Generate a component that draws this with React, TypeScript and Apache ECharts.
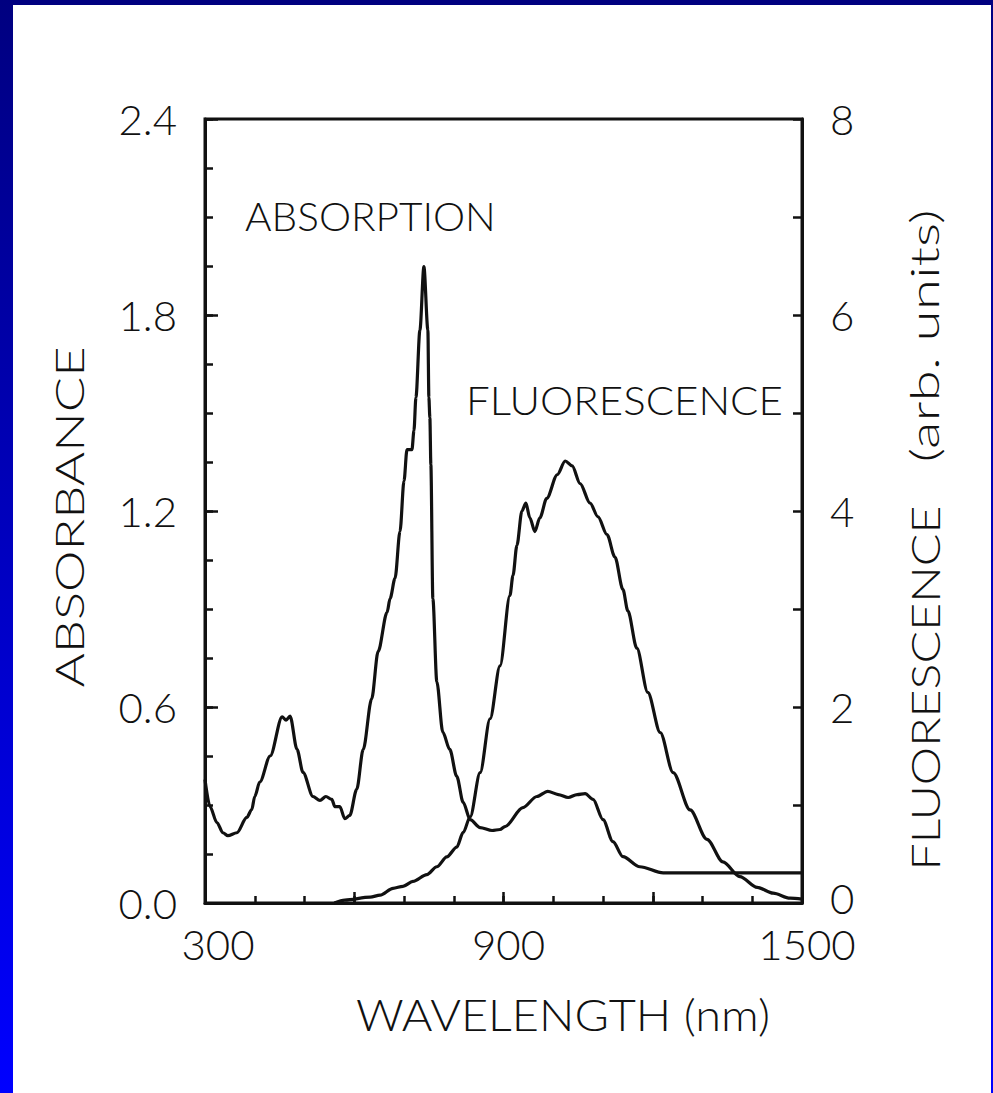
import React, { useEffect, useRef } from "react";
import * as echarts from "echarts";

// Absorption spectrum (left axis, absorbance)
const absWavelength = [
  300, 310, 324, 336, 346, 364, 384, 394, 400, 410, 431, 455, 463, 471, 485, 497,
  517, 531, 543, 555, 561, 571, 581, 591, 605, 618, 635, 648, 666, 672, 682, 692,
  700, 706, 716, 720, 724, 732, 740, 748, 750, 752, 754, 758, 766, 778, 792, 806,
  819, 833, 853, 877, 893, 903, 939, 967, 989, 1010, 1030, 1048, 1064, 1080, 1100,
  1120, 1140, 1174, 1221, 1300, 1500,
];
const absorbance = [
  0.378, 0.295, 0.246, 0.215, 0.206, 0.215, 0.262, 0.286, 0.326, 0.37, 0.45, 0.57,
  0.56, 0.572, 0.47, 0.4, 0.326, 0.314, 0.326, 0.317, 0.295, 0.295, 0.258, 0.268,
  0.348, 0.47, 0.625, 0.77, 0.89, 0.932, 0.994, 1.138, 1.292, 1.388, 1.388, 1.446,
  1.548, 1.754, 1.948, 1.754, 1.548, 1.486, 1.342, 0.932, 0.677, 0.523, 0.47, 0.388,
  0.308, 0.255, 0.231, 0.222, 0.225, 0.234, 0.292, 0.326, 0.342, 0.332, 0.323,
  0.332, 0.335, 0.317, 0.255, 0.188, 0.142, 0.111, 0.092, 0.092, 0.092,
];

// Fluorescence spectrum (right axis, arbitrary units)
const flWavelength = [
  560, 581, 632, 652, 678, 698, 718, 746, 766, 786, 806, 819, 833, 853, 873, 893,
  913, 919, 927, 937, 945, 953, 963, 973, 987, 1008, 1024, 1038, 1054, 1074, 1090,
  1108, 1124, 1140, 1150, 1168, 1190, 1215, 1241, 1275, 1309, 1341, 1375, 1410,
  1442, 1476, 1500,
];
const fluorescence = [
  0, 0.03, 0.06, 0.08, 0.15, 0.17, 0.22, 0.29, 0.37, 0.47, 0.57, 0.72, 0.88, 1.33,
  1.88, 2.42, 3.14, 3.34, 3.65, 4.0, 4.08, 3.93, 3.79, 3.93, 4.13, 4.37, 4.51, 4.46,
  4.28, 4.08, 3.94, 3.76, 3.53, 3.2, 2.98, 2.6, 2.15, 1.74, 1.33, 0.95, 0.65, 0.42,
  0.27, 0.16, 0.1, 0.05, 0.04,
];

// Tick labels
const wavelengthLabels = [300, 900, 1500];
const absorbanceLabels = ["0.0", "0.6", "1.2", "1.8", "2.4"];
const fluorescenceLabels = ["0", "2", "4", "6", "8"];

const FONT = "Lato";
const INK = "#111";

export default function App() {
  const ref = useRef<HTMLDivElement>(null);

  useEffect(() => {
    if (!ref.current) return;
    const chart = echarts.init(ref.current, null, { renderer: "svg" });

    const tickLine = { color: INK, width: 2.5 };
    const labelBase = { color: INK, fontFamily: FONT, fontWeight: 300, fontSize: 42 };

    const blueFade = {
      type: "linear",
      x: 0, y: 0, x2: 0, y2: 1,
      colorStops: [
        { offset: 0, color: "#000080" },
        { offset: 1, color: "#0000ff" },
      ],
    };

    const titleText = (
      text: string,
      x: number,
      y: number,
      fontSize: number,
      scaleX: number,
      align: string,
      rotated: boolean
    ) => ({
      type: "text",
      x,
      y,
      rotation: rotated ? Math.PI / 2 : 0,
      scaleX,
      style: {
        text,
        fill: INK,
        fontFamily: FONT,
        fontWeight: 300,
        fontSize,
        align,
        verticalAlign: "middle",
      },
    });

    const option: any = {
      animation: false,
      backgroundColor: "#ffffff",
      grid: {
        left: 205,
        right: 191,
        top: 119,
        bottom: 190,
        show: true,
        borderColor: INK,
        borderWidth: 3,
        containLabel: false,
        outerBoundsMode: "none",
      },
      xAxis: [
        {
          type: "value",
          min: 300,
          max: 1500,
          interval: 100,
          position: "bottom",
          axisLine: { show: true, lineStyle: { color: INK, width: 3 } },
          axisTick: { show: true, inside: true, length: 7, lineStyle: tickLine },
          axisLabel: { show: false },
          splitLine: { show: false },
        },
        {
          type: "value",
          min: 300,
          max: 1500,
          interval: 300,
          position: "bottom",
          axisLine: { show: false },
          axisTick: { show: true, inside: true, length: 11, lineStyle: tickLine },
          axisLabel: {
            ...labelBase,
            lineHeight: 42,
            margin: 20,
            padding: [0, 0, 0, 10],
            formatter: (v: number) => {
              const n = Math.round(v);
              if (!wavelengthLabels.includes(n)) return "";
              return n === wavelengthLabels[0] ? `{first|${n}}` : String(n);
            },
            rich: {
              first: { ...labelBase, lineHeight: 42, padding: [0, 0, 0, 16] },
            },
          },
          splitLine: { show: false },
        },
      ],
      yAxis: [
        {
          type: "value",
          min: 0,
          max: 2.4,
          interval: 0.15,
          position: "left",
          axisLine: { show: true, lineStyle: { color: INK, width: 3 } },
          axisTick: { show: true, inside: true, length: 8, lineStyle: tickLine },
          axisLabel: { show: false },
          splitLine: { show: false },
        },
        {
          type: "value",
          min: 0,
          max: 2.4,
          interval: 0.6,
          position: "left",
          axisLine: { show: false },
          axisTick: { show: true, inside: true, length: 13, lineStyle: tickLine },
          axisLabel: {
            ...labelBase,
            margin: 28,
            formatter: (v: number) => absorbanceLabels[Math.round(v / 0.6)] ?? "",
          },
          splitLine: { show: false },
        },
        {
          type: "value",
          min: 0,
          max: 8,
          interval: 1,
          position: "right",
          axisLine: { show: true, lineStyle: { color: INK, width: 3 } },
          axisTick: { show: true, inside: true, length: 9, lineStyle: tickLine },
          axisLabel: {
            ...labelBase,
            margin: 28,
            formatter: (v: number) => {
              const n = Math.round(v);
              if (n % 2 !== 0) return "";
              return n === 0 ? `{zero|${fluorescenceLabels[0]}}` : fluorescenceLabels[n / 2];
            },
            rich: {
              zero: { ...labelBase, padding: [0, 0, 10, 0] },
            },
          },
          splitLine: { show: false },
        },
      ],
      series: [
        {
          name: "ABSORPTION",
          type: "line",
          xAxisIndex: 0,
          yAxisIndex: 0,
          data: absWavelength.map((w, i) => [w, absorbance[i]]),
          showSymbol: false,
          smooth: 0.3,
          smoothMonotone: "x",
          lineStyle: { color: INK, width: 3.2 },
        },
        {
          name: "FLUORESCENCE",
          type: "line",
          xAxisIndex: 0,
          yAxisIndex: 2,
          data: flWavelength.map((w, i) => [w, fluorescence[i]]),
          showSymbol: false,
          smooth: 0.3,
          smoothMonotone: "x",
          lineStyle: { color: INK, width: 3.2 },
        },
      ],
      graphic: [
        // slide frame
        {
          type: "rect",
          shape: { x: 0, y: 0, width: 993, height: 5 },
          style: { fill: "#000080" },
          silent: true,
        },
        {
          type: "rect",
          shape: { x: 0, y: 0, width: 13, height: 1093 },
          style: { fill: blueFade },
          silent: true,
        },
        {
          type: "rect",
          shape: { x: 991, y: 0, width: 2, height: 1093 },
          style: { fill: blueFade },
          silent: true,
        },
        // curve labels
        titleText("ABSORPTION", 245, 216, 39, 1.04, "left", false),
        titleText("FLUORESCENCE", 466, 400, 40, 1.05, "left", false),
        // axis titles
        titleText("ABSORBANCE", 69, 517, 40, 1.31, "center", true),
        titleText("FLUORESCENCE", 924, 688, 40, 1.21, "center", true),
        titleText("(arb. units)", 924, 336, 40, 1.42, "center", true),
        titleText("WAVELENGTH (nm)", 563, 1015, 43, 1.09, "center", false),
      ],
    };

    chart.setOption(option);
    return () => chart.dispose();
  }, []);

  return (
    <div
      ref={ref}
      style={{ position: "fixed", left: 0, top: 0, width: 993, height: 1093 }}
    />
  );
}
